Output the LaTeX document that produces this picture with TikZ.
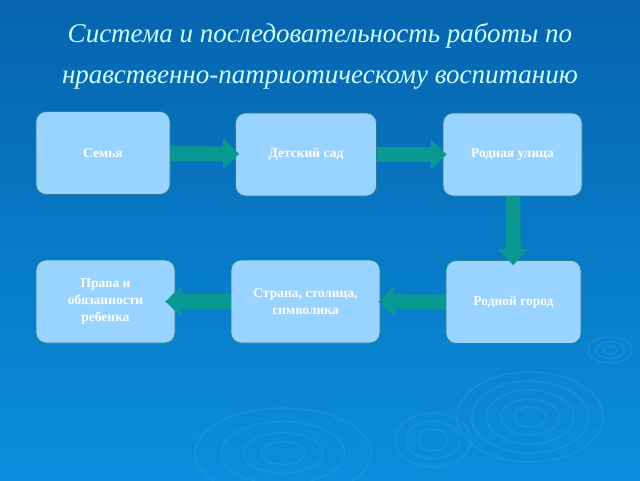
\documentclass[tikz,border=0pt]{standalone}
\usepackage{fontspec}
\setmainfont{Liberation Serif}
\usetikzlibrary{arrows.meta}

\definecolor{bgtop}{HTML}{0664AE}
\definecolor{bgbot}{HTML}{0A8EDD}
\definecolor{boxfill}{HTML}{99D3FF}
\definecolor{boxline}{HTML}{2A7E8E}
\definecolor{arrowfill}{HTML}{0A9992}
\definecolor{titlecol}{HTML}{CCFFFF}
\definecolor{ripplecol}{HTML}{3AA8F0}

\begin{document}
\begin{tikzpicture}[line cap=butt,line join=round,x=1pt,y=-1pt,
  stage/.style={draw=boxline,line width=0.8pt,fill=boxfill,rounded corners=10pt,
    minimum width=138pt,minimum height=83pt,align=center,text=white,
    font=\fontsize{13.5}{17}\selectfont\bfseries},
  flow/.style={draw=arrowfill,line width=15pt,
    -{Triangle[width=30pt,length=16pt]}},
  ripple/.style={draw=ripplecol,line width=1.1pt,opacity=0.35}]
\useasboundingbox (0,0) rectangle (640,480);
\shade[top color=bgtop,bottom color=bgbot] (0,0) rectangle (640,480);
% ripples at the bottom
\foreach \r in {1,0.8,0.6,0.4,0.22}
\draw[ripple] (530,417) ellipse ({73*\r} and {45*\r});
\foreach \r in {1,0.7,0.45,0.25}
\draw[ripple] (283,453) ellipse ({88*\r} and {45*\r});
\foreach \r in {1,0.7,0.4}
\draw[ripple] (433,440) ellipse ({38*\r} and {27*\r});
\foreach \r in {1,0.65,0.3}
\draw[ripple] (610,350) ellipse ({22*\r} and {13*\r});
% title
\node (title) at (320,56) [align=center,text=titlecol,inner sep=0pt,
  font=\fontsize{27}{41}\selectfont\itshape]
  {Система и последовательность работы по\\нравственно-патриотическому воспитанию};
% stages
\node[stage,minimum width=134pt] (semya) at (103,153) {Семья};
\node[stage,minimum width=141pt] (sad) at (306,154.5) {Детский сад};
\node[stage,minimum width=139pt] (ulitsa) at (512.5,154.5) {Родная улица};
\node[stage,minimum width=135pt] (gorod) at (513.5,302) {Родной город};
\node[stage,minimum width=149pt] (strana) at (305.5,301.5) {Страна, столица,\\символика};
\node[stage,minimum width=139pt] (prava) at (105.5,301.5) {Права и\\обязанности\\ребенка};
% arrows between stages
\draw[flow,shorten >=-4pt] (semya) -- (sad);
\draw[flow,shorten >=-4pt] (sad) -- (ulitsa);
\draw[flow,shorten >=-5pt] (ulitsa) -- (gorod);
\draw[flow,shorten >=-2pt] (gorod) -- (strana);
\draw[flow,shorten >=-10pt] (strana) -- (prava);
\end{tikzpicture}
\end{document}
